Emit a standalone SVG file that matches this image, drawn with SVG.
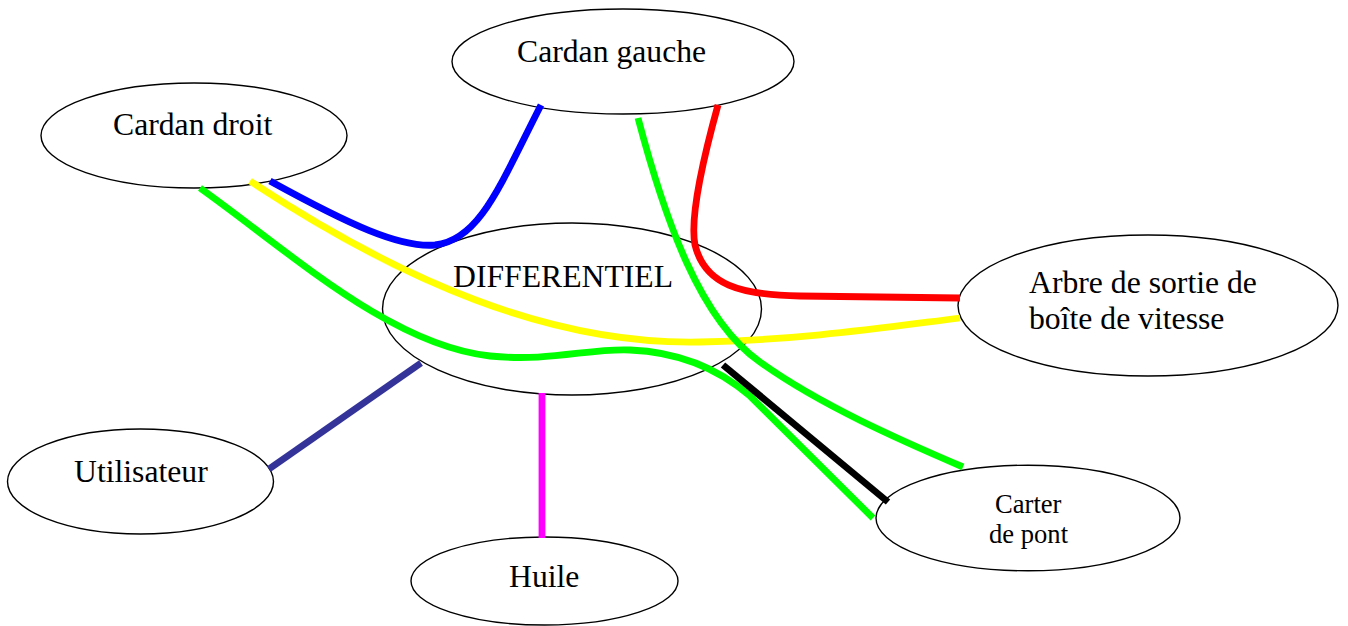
<svg xmlns="http://www.w3.org/2000/svg" width="1348" height="626" viewBox="0 0 1348 626">
<style>
.n{fill:#fff;stroke:#000;stroke-width:1.4}
.t{font-family:"Liberation Serif","Times New Roman",serif;font-size:31.7px;fill:#000}
.s{font-size:26.6px}
.c{fill:none;stroke-width:6.8;stroke-linecap:butt}
</style>
<rect width="1348" height="626" fill="#fff"/>
<g id="cardan-gauche"><ellipse class="n" cx="623" cy="61.5" rx="171" ry="52.5"/><text class="t" x="517" y="62">Cardan gauche</text></g>
<g id="cardan-droit"><ellipse class="n" cx="194" cy="135.5" rx="153" ry="52.5"/><text class="t" x="113" y="135">Cardan droit</text></g>
<g id="differentiel"><ellipse class="n" cx="572" cy="309" rx="189.5" ry="86"/><text class="t" x="453" y="287">DIFFERENTIEL</text></g>
<g id="arbre"><ellipse class="n" cx="1148" cy="305.5" rx="190" ry="70.5"/><text class="t" x="1029" y="293">Arbre de sortie de</text><text class="t" x="1029" y="329">boîte de vitesse</text></g>
<g id="utilisateur"><ellipse class="n" cx="140.5" cy="481.5" rx="133" ry="52.5"/><text class="t" x="74" y="482">Utilisateur</text></g>
<g id="huile"><ellipse class="n" cx="544.5" cy="581" rx="133.5" ry="44"/><text class="t" x="509" y="587">Huile</text></g>
<g id="carter"><ellipse class="n" cx="1028" cy="518" rx="152" ry="52.8"/><text class="t s" x="995" y="513">Carter</text><text class="t s" x="989" y="543">de pont</text></g>
<g id="connectors">
<path class="c" stroke="#0000ff" d="M270,181 C350,225 400,248 435,245 C480,240 500,185 541,105"/>
<path class="c" stroke="#ffff00" d="M250,181 C400,280 550,345 700,342 C800,340 880,328 960,318"/>
<path class="c" stroke="#00ff00" d="M200,188 C290,252 390,345 490,356 C550,362 590,348 630,350 C680,352 720,370 750,396 L873,518"/>
<path class="c" stroke="#00ff00" d="M638,118 C665,220 700,320 760,362 C820,405 900,440 963,467"/>
<path class="c" stroke="#ff0000" d="M718,105 C700,170 690,220 695,245 C705,285 740,295 800,296 L960,298"/>
<path class="c" stroke="#000000" d="M723,365 L888,502"/>
<path class="c" stroke="#333399" d="M269,469 L421,363"/>
<path class="c" stroke="#ff00ff" d="M542,393 L542,538"/>
</g>
</svg>
